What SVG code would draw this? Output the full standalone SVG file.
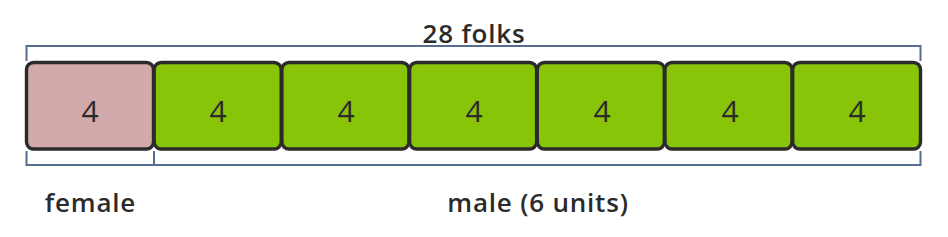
<svg xmlns="http://www.w3.org/2000/svg" width="948" height="237" viewBox="0 0 948 237">
<style>
.box{stroke:#2b2b2b;stroke-width:3.4}
.f{fill:#d2aaab}
.m{fill:#88c508}
.num{font-family:"Open Sans",Lato,sans-serif;font-size:30px;fill:#2b2b2b;text-anchor:middle}
.lbl{font-family:"Open Sans",Lato,sans-serif;font-size:26px;font-weight:600;fill:#2b2b2b;text-anchor:middle;letter-spacing:0.8px}
.br{fill:none;stroke:#566d8f;stroke-width:2}
</style>
<rect width="948" height="237" fill="#fff"/>
<g id="connectors">
<path class="br" d="M26.5 61V46H920.5V61"/>
<path class="br" d="M26.5 151V165H154V151"/>
<path class="br" d="M154 165H920.5V151"/>
</g>
<g id="u1"><rect class="box f" x="26.5" y="62.5" width="127" height="86.5" rx="7"/><text class="num" x="90" y="122">4</text></g>
<g id="u2"><rect class="box m" x="154.2" y="62.5" width="127" height="86.5" rx="7"/><text class="num" x="218" y="122">4</text></g>
<g id="u3"><rect class="box m" x="281.9" y="62.5" width="127" height="86.5" rx="7"/><text class="num" x="346" y="122">4</text></g>
<g id="u4"><rect class="box m" x="409.6" y="62.5" width="127" height="86.5" rx="7"/><text class="num" x="474" y="122">4</text></g>
<g id="u5"><rect class="box m" x="537.3" y="62.5" width="127" height="86.5" rx="7"/><text class="num" x="602" y="122">4</text></g>
<g id="u6"><rect class="box m" x="665" y="62.5" width="127" height="86.5" rx="7"/><text class="num" x="730" y="122">4</text></g>
<g id="u7"><rect class="box m" x="792.7" y="62.5" width="127.8" height="86.5" rx="7"/><text class="num" x="857" y="122">4</text></g>
<text class="lbl" x="474" y="43">28 folks</text>
<text class="lbl" x="90.5" y="212">female</text>
<text class="lbl" x="538" y="212">male (6 units)</text>
</svg>
